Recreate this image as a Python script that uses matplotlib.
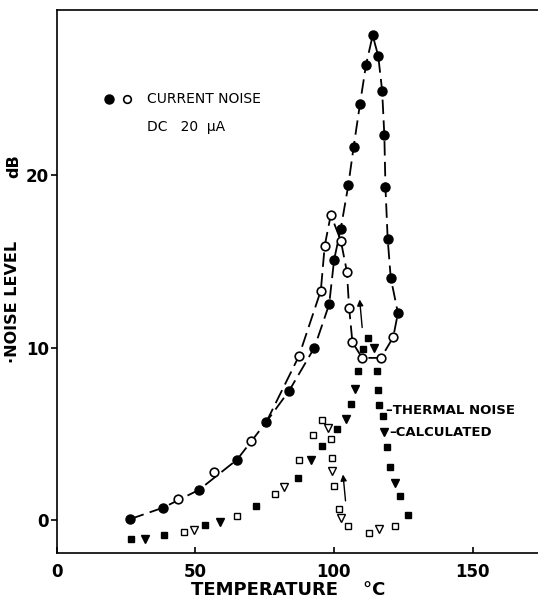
import numpy as np
import matplotlib
matplotlib.use("Agg")
import matplotlib.pyplot as plt

# current noise, filled circles (heating)
T_fc = [26.5, 38.5, 51.4, 65.1, 75.7, 83.9, 93.0, 98.3, 100.1, 102.5, 105.2, 107.1,
        109.4, 111.6, 114.0, 116.0, 117.4, 118.2, 118.6, 119.4, 120.5, 123.1]
dB_fc = [0.05, 0.72, 1.75, 3.5, 5.7, 7.5, 10.0, 12.5, 15.1, 16.9, 19.4, 21.6,
         24.1, 26.4, 28.1, 26.9, 24.9, 22.3, 19.3, 16.3, 14.05, 12.0]

# current noise, open circles
T_oc = [43.9, 56.9, 70.2, 87.4, 95.3, 96.7, 98.9, 102.5, 104.7, 105.5, 106.7, 110.2, 117.0, 121.4]
dB_oc = [1.2, 2.8, 4.6, 9.5, 13.3, 15.9, 17.7, 16.2, 14.4, 12.3, 10.3, 9.4, 9.4, 10.6]

# thermal noise, filled squares
T_fs = [27.0, 38.9, 53.6, 72.0, 87.0, 95.6, 101.3, 106.0, 108.7, 110.4, 112.4,
        115.6, 115.8, 116.4, 117.6, 119.1, 120.4, 123.7, 126.7]
dB_fs = [-1.08, -0.87, -0.28, 0.81, 2.46, 4.3, 5.27, 6.73, 8.63, 9.92, 10.56,
         8.66, 7.54, 6.69, 6.05, 4.26, 3.08, 1.4, 0.27]

# thermal noise, open squares
T_os = [45.8, 65.1, 78.7, 87.6, 92.5, 95.7, 98.8, 99.3, 99.9, 101.8, 105.1, 112.5, 122.1]
dB_os = [-0.68, 0.25, 1.51, 3.48, 4.93, 5.82, 4.69, 3.6, 1.98, 0.66, -0.33, -0.77, -0.35]

# calculated, filled triangles
T_ft = [31.9, 59.1, 91.9, 104.2, 107.6, 114.6, 117.9, 121.9]
dB_ft = [-1.08, -0.11, 3.49, 5.88, 7.62, 9.96, 5.08, 2.17]

# calculated, open triangles
T_ot = [49.4, 82.0, 97.9, 99.5, 102.4, 116.1]
dB_ot = [-0.6, 1.9, 5.35, 2.83, 0.12, -0.5]

W, H = 538, 601
fig = plt.figure(figsize=(W / 100, H / 100), dpi=100)
ax = fig.add_axes([56.5 / W, 47.7 / H, (W - 56.5) / W, 543.3 / H])

def px(x, y):
    return x / W, 1 - y / H

dash = (0, (8, 3.5))
# curve through filled circles
ax.plot(T_fc, dB_fc, color='k', lw=1.3, ls=dash, zorder=2)
# curve through open circles, branching off and rejoining
T_b = [T_fc[4]] + T_oc[3:] + [T_fc[-1]]
dB_b = [dB_fc[4]] + dB_oc[3:] + [dB_fc[-1]]
ax.plot(T_b, dB_b, color='k', lw=1.3, ls=dash, zorder=2)

ax.plot(T_fc, dB_fc, 'o', color='k', ms=6.5, zorder=4)
ax.plot(T_oc, dB_oc, 'o', mfc='white', mec='k', mew=1.2, ms=6.2, zorder=4)
ax.plot(T_fs, dB_fs, 's', color='k', ms=4.3, zorder=4)
ax.plot(T_os, dB_os, 's', mfc='white', mec='k', mew=1.0, ms=4.3, zorder=4)
ax.plot(T_ft, dB_ft, 'v', color='k', ms=5.5, zorder=4)
ax.plot(T_ot, dB_ot, 'v', mfc='white', mec='k', mew=1.0, ms=5.5, zorder=4)

# arrows
ax.annotate('', xy=(103.2, 2.8), xytext=(104.3, 0.95),
            arrowprops=dict(arrowstyle='-|>', color='k', lw=1.0, mutation_scale=9))
ax.annotate('', xy=(109.2, 12.95), xytext=(110.3, 11.0),
            arrowprops=dict(arrowstyle='-|>', color='k', lw=1.0, mutation_scale=9))

ax.set_xlim(0, 173.6)
ax.set_ylim(-1.93, 29.57)
ax.spines['right'].set_visible(False)
for s in ['left', 'bottom', 'top']:
    ax.spines[s].set_linewidth(1.2)
ax.set_xticks([0, 50, 100, 150])
ax.set_yticks([0, 10, 20])
ax.tick_params(axis='x', direction='in', length=4, width=1.2, pad=7, labelsize=12)
ax.tick_params(axis='y', direction='out', length=4, width=1.2, pad=1.5, labelsize=12)
for lab in ax.get_xticklabels() + ax.get_yticklabels():
    lab.set_fontweight('bold')

# axis labels
fig.text(*px(288, 590), 'TEMPERATURE    \u00b0C', ha='center', va='center',
         fontsize=13, fontweight='bold')
fig.text(*px(13, 302), '\u00b7NOISE LEVEL', ha='center', va='center', rotation=90,
         fontsize=11.5, fontweight='bold')
fig.text(*px(14, 166), 'dB', ha='center', va='center', rotation=90,
         fontsize=11.5, fontweight='bold')

# key
fig.lines.append(plt.Line2D([109 / W], [1 - 99 / H], marker='o', color='k', ms=6.5,
                            transform=fig.transFigure))
fig.lines.append(plt.Line2D([127 / W], [1 - 99 / H], marker='o', mfc='white', mec='k',
                            mew=1.2, ms=5.5, transform=fig.transFigure))
fig.text(*px(147, 99), 'CURRENT NOISE', ha='left', va='center', fontsize=10)
fig.text(*px(147, 127), 'DC   20  \u03bcA', ha='left', va='center', fontsize=10)

fig.text(*px(386, 411), '\u2013THERMAL NOISE', ha='left', va='center',
         fontsize=9.5, fontweight='bold')
fig.text(*px(389, 433), '\u2013CALCULATED', ha='left', va='center',
         fontsize=9.5, fontweight='bold')

fig.savefig('out.png', dpi=100)
